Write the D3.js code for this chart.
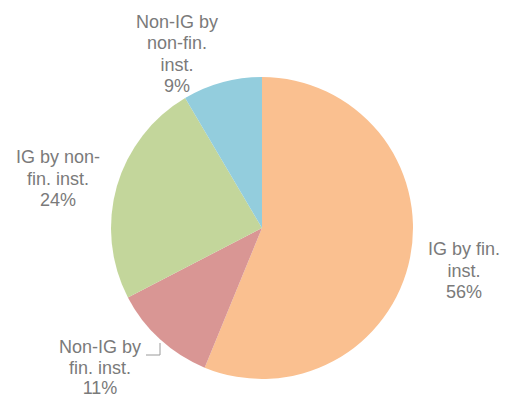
<!DOCTYPE html>
<html><head><meta charset="utf-8">
<script src="https://cdn.jsdelivr.net/npm/d3@7"></script>
<style>
html,body{margin:0;padding:0;background:#fff;}
svg{display:block;}
text{font-family:"Liberation Sans",Arial,sans-serif;font-size:18px;fill:#7a7a7a;}
</style></head>
<body>
<svg id="chart" width="508" height="399"></svg>
<script>
const categories = ["IG by fin. inst.", "Non-IG by fin. inst.", "IG by non-fin. inst.", "Non-IG by non-fin. inst."];
const values = [56.2, 11.2, 24.1, 8.5];
const colors = ["#FAC090", "#D99694", "#C3D69B", "#93CDDD"];
const labelLines = [
  ["IG by fin.", "inst."],
  ["Non-IG by", "fin. inst."],
  ["IG by non-", "fin. inst."],
  ["Non-IG by", "non-fin.", "inst."]
];
const labelPos = [[464, 255], [100, 353], [58, 163], [177, 27.5]];

const svg = d3.select("#chart");
const cx = 262, cy = 228, r = 151;
const g = svg.append("g").attr("transform", `translate(${cx},${cy})`);
const pie = d3.pie().sort(null).value(d => d)(values);
const arc = d3.arc().innerRadius(0).outerRadius(r);
g.selectAll("path").data(pie).join("path")
  .attr("d", arc)
  .attr("fill", (d, i) => colors[i]);

const lh = [21.5, 20.5, 21.5, 21.5];
labelPos.forEach((p, i) => {
  const t = svg.append("text").attr("text-anchor", "middle");
  const lines = labelLines[i].concat([Math.round(values[i]) + "%"]);
  lines.forEach((l, j) => {
    t.append("tspan").attr("x", p[0]).attr("y", p[1] + j * lh[i]).text(l);
  });
});

// leader line for Non-IG by fin. inst.
svg.append("path")
  .attr("d", d3.line()([[146, 355], [160, 355], [160, 343]]))
  .attr("fill", "none").attr("stroke", "#9a9a9a").attr("stroke-width", 1);
</script>
</body></html>
